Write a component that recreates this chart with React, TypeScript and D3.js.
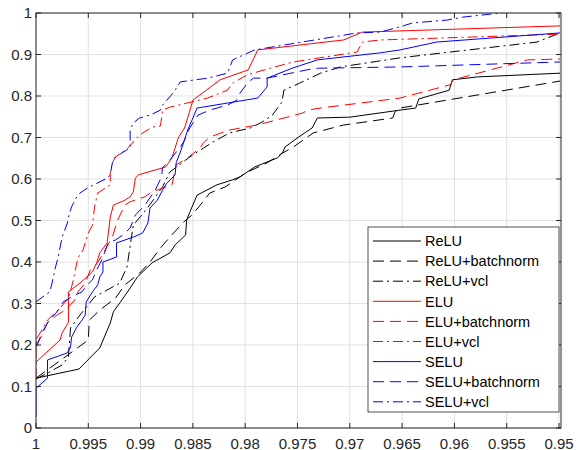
import React from "react";
import * as d3 from "d3";

type Pt = [number, number];

const xTicks = [1, 0.995, 0.99, 0.985, 0.98, 0.975, 0.97, 0.965, 0.96, 0.955, 0.95];
const xTickLabels = ["1", "0.995", "0.99", "0.985", "0.98", "0.975", "0.97", "0.965", "0.96", "0.955", "0.95"];
const yTicks = [0, 0.1, 0.2, 0.3, 0.4, 0.5, 0.6, 0.7, 0.8, 0.9, 1];
const yTickLabels = ["0", "0.1", "0.2", "0.3", "0.4", "0.5", "0.6", "0.7", "0.8", "0.9", "1"];

const relu: Pt[] = [
  [1, 0.12], [0.9959, 0.142], [0.9939, 0.193], [0.9929, 0.253], [0.9926, 0.28], [0.992, 0.301],
  [0.991, 0.337], [0.9903, 0.364], [0.9889, 0.398], [0.9872, 0.422], [0.9867, 0.441], [0.9857, 0.465],
  [0.9856, 0.501], [0.9853, 0.52], [0.9846, 0.561], [0.9827, 0.586], [0.9812, 0.598], [0.9805, 0.605],
  [0.9791, 0.629], [0.9769, 0.651], [0.9764, 0.665], [0.9762, 0.677], [0.9749, 0.701], [0.9736, 0.723],
  [0.9731, 0.747], [0.97, 0.749], [0.9652, 0.766], [0.9637, 0.771], [0.9634, 0.793], [0.9605, 0.814],
  [0.9602, 0.839], [0.9578, 0.846], [0.9499, 0.855],
];
const reluBn: Pt[] = [
  [1, 0.12], [0.995, 0.212], [0.9949, 0.26], [0.9939, 0.284], [0.9924, 0.313], [0.9915, 0.345],
  [0.9901, 0.373], [0.9891, 0.4], [0.9881, 0.434], [0.9872, 0.46], [0.9859, 0.496], [0.9851, 0.513],
  [0.9843, 0.537], [0.9834, 0.566], [0.9819, 0.581], [0.98, 0.614], [0.9779, 0.639], [0.9764, 0.663],
  [0.9754, 0.677], [0.9735, 0.711], [0.9706, 0.73], [0.9659, 0.747], [0.9657, 0.761], [0.9652, 0.771],
  [0.9499, 0.836],
];
const reluVcl: Pt[] = [
  [1, 0.118], [0.9987, 0.135], [0.9975, 0.152], [0.9969, 0.171], [0.9967, 0.241], [0.9958, 0.272],
  [0.9944, 0.316], [0.992, 0.349], [0.9913, 0.388], [0.9907, 0.489], [0.9894, 0.528], [0.9879, 0.581],
  [0.9872, 0.617], [0.9853, 0.653], [0.9831, 0.689], [0.9815, 0.711], [0.9795, 0.723], [0.9784, 0.737],
  [0.9774, 0.754], [0.9765, 0.785], [0.9763, 0.814], [0.9748, 0.831], [0.9728, 0.855], [0.9709, 0.87],
  [0.9652, 0.892], [0.9521, 0.93], [0.9499, 0.952],
];
const elu: Pt[] = [
  [1, 0.159], [0.9977, 0.212], [0.9975, 0.229], [0.9969, 0.255], [0.9969, 0.328], [0.9958, 0.349],
  [0.9946, 0.376], [0.9942, 0.398], [0.9939, 0.422], [0.9932, 0.446], [0.9929, 0.508], [0.9926, 0.537],
  [0.9915, 0.549], [0.991, 0.557], [0.9907, 0.569], [0.9905, 0.602], [0.9902, 0.61], [0.9876, 0.629],
  [0.987, 0.651], [0.9864, 0.699], [0.9858, 0.723], [0.9855, 0.747], [0.985, 0.79], [0.9824, 0.839],
  [0.9797, 0.863], [0.9788, 0.911], [0.9706, 0.935], [0.9688, 0.954], [0.9499, 0.969],
];
const eluBn: Pt[] = [
  [1, 0.2], [0.9994, 0.224], [0.9989, 0.255], [0.998, 0.272], [0.9972, 0.284], [0.9963, 0.308],
  [0.996, 0.328], [0.9953, 0.349], [0.9948, 0.381], [0.9941, 0.398], [0.9934, 0.429], [0.9927, 0.46],
  [0.9922, 0.501], [0.9915, 0.537], [0.991, 0.545], [0.9896, 0.557], [0.9889, 0.569], [0.987, 0.586],
  [0.9866, 0.634], [0.9855, 0.651], [0.9843, 0.675], [0.984, 0.687], [0.9834, 0.701], [0.9815, 0.718],
  [0.9789, 0.73], [0.9781, 0.735], [0.9745, 0.759], [0.974, 0.766], [0.9728, 0.771], [0.9652, 0.795],
  [0.9604, 0.827], [0.9601, 0.839], [0.953, 0.887], [0.9499, 0.889],
];
const eluVcl: Pt[] = [
  [1, 0.12], [1, 0.212], [0.9989, 0.26], [0.9977, 0.289], [0.9969, 0.313], [0.9965, 0.349],
  [0.996, 0.41], [0.9955, 0.429], [0.995, 0.47], [0.9946, 0.489], [0.9944, 0.533], [0.9941, 0.566],
  [0.9929, 0.586], [0.9929, 0.617], [0.9927, 0.639], [0.9924, 0.653], [0.9912, 0.675], [0.9903, 0.701],
  [0.9901, 0.706], [0.9889, 0.725], [0.9881, 0.728], [0.9879, 0.766], [0.9872, 0.773], [0.9859, 0.781],
  [0.9836, 0.795], [0.9817, 0.814], [0.9812, 0.831], [0.9798, 0.851], [0.9776, 0.867], [0.9754, 0.882],
  [0.9693, 0.906], [0.9688, 0.93], [0.9671, 0.935], [0.9499, 0.949],
];
const selu: Pt[] = [
  [1, 0.027], [1, 0.096], [0.9989, 0.12], [0.9989, 0.164], [0.997, 0.181], [0.9967, 0.195],
  [0.9966, 0.219], [0.9961, 0.243], [0.9956, 0.26], [0.9953, 0.272], [0.9952, 0.304], [0.9946, 0.328],
  [0.9941, 0.345], [0.9939, 0.364], [0.9936, 0.376], [0.9936, 0.4], [0.9923, 0.412], [0.9923, 0.446],
  [0.9907, 0.46], [0.9898, 0.47], [0.9893, 0.494], [0.9891, 0.53], [0.9884, 0.549], [0.9879, 0.573],
  [0.9875, 0.59], [0.9867, 0.61], [0.9866, 0.639], [0.9862, 0.665], [0.9858, 0.694], [0.9855, 0.718],
  [0.985, 0.747], [0.9846, 0.771], [0.9788, 0.795], [0.9779, 0.822], [0.9779, 0.843], [0.9755, 0.867],
  [0.9731, 0.887], [0.9671, 0.904], [0.9652, 0.911], [0.9617, 0.93], [0.9499, 0.952],
];
const seluBn: Pt[] = [
  [1, 0.195], [0.9998, 0.205], [0.9994, 0.231], [0.9989, 0.253], [0.9977, 0.289], [0.9974, 0.304],
  [0.9963, 0.32], [0.9956, 0.328], [0.9951, 0.345], [0.9946, 0.357], [0.9942, 0.381], [0.9937, 0.405],
  [0.9931, 0.446], [0.9924, 0.453], [0.9917, 0.465], [0.991, 0.482], [0.9905, 0.513], [0.9896, 0.537],
  [0.9886, 0.573], [0.988, 0.605], [0.9879, 0.627], [0.9872, 0.646], [0.9862, 0.677], [0.9859, 0.689],
  [0.9853, 0.723], [0.9845, 0.754], [0.9834, 0.766], [0.9817, 0.778], [0.9808, 0.79], [0.9805, 0.807],
  [0.9797, 0.834], [0.9792, 0.843], [0.9779, 0.843], [0.9741, 0.863], [0.973, 0.867], [0.9652, 0.87],
  [0.9499, 0.882],
];
const seluVcl: Pt[] = [
  [1, 0.304], [0.9987, 0.328], [0.9985, 0.345], [0.9982, 0.381], [0.9979, 0.41], [0.9975, 0.46],
  [0.997, 0.494], [0.9969, 0.508], [0.9966, 0.533], [0.9961, 0.557], [0.9958, 0.566], [0.9951, 0.578],
  [0.9932, 0.602], [0.9929, 0.61], [0.9927, 0.639], [0.9924, 0.653], [0.991, 0.675], [0.991, 0.718],
  [0.9907, 0.735], [0.9901, 0.747], [0.9891, 0.754], [0.9881, 0.766], [0.9879, 0.778], [0.9869, 0.807],
  [0.9862, 0.834], [0.9836, 0.843], [0.9831, 0.846], [0.9817, 0.855], [0.9812, 0.887], [0.9791, 0.911],
  [0.9693, 0.952], [0.9671, 0.954], [0.9649, 0.969], [0.964, 0.976], [0.9607, 0.983], [0.9592, 0.99],
  [0.9556, 1.0], [0.9499, 1.012],
];

const seriesNames = [
  "ReLU", "ReLU+batchnorm", "ReLU+vcl",
  "ELU", "ELU+batchnorm", "ELU+vcl",
  "SELU", "SELU+batchnorm", "SELU+vcl",
];
const seriesData = [relu, reluBn, reluVcl, elu, eluBn, eluVcl, selu, seluBn, seluVcl];
const seriesColors = ["#000000", "#000000", "#000000", "#ff0000", "#ff0000", "#ff0000", "#0000ff", "#0000ff", "#0000ff"];
const seriesStyles = ["solid", "dash", "dashdot", "solid", "dash", "dashdot", "solid", "dash", "dashdot"];

const dashFor = (s: string) => (s === "dash" ? "11,6" : s === "dashdot" ? "10,4,2,4" : undefined);

export default function App() {
  const W = 576, H = 450;
  const left = 36, right = 561, top = 13, bottom = 428;
  const x = d3.scaleLinear().domain([1, 0.94981]).range([left, right]);
  const y = d3.scaleLinear().domain([0, 1]).range([bottom, top]);
  const line = d3.line<Pt>().x((d) => x(d[0])).y((d) => y(d[1]));
  const axisColor = "#262626";
  const gridColor = "#e1e1e1";
  const font = "'Liberation Sans', Arial, Helvetica, sans-serif";
  const tickLen = 5;

  const legX = 368, legY = 227, legW = 191, legH = 185;
  const rowH = 20.1;

  return (
    <svg width={W} height={H} style={{ position: "absolute", left: 0, top: 0, background: "#fff" }}>
      <defs>
        <clipPath id="plotclip">
          <rect x={left} y={top} width={right - left} height={bottom - top} />
        </clipPath>
      </defs>
      <rect x={0} y={0} width={W} height={H} fill="#fff" />
      {xTicks.map((t, i) => (
        <line key={"gx" + i} x1={x(t)} x2={x(t)} y1={top} y2={bottom} stroke={gridColor} strokeWidth={1} />
      ))}
      {yTicks.map((t, i) => (
        <line key={"gy" + i} x1={left} x2={right} y1={y(t)} y2={y(t)} stroke={gridColor} strokeWidth={1} />
      ))}
      <g clipPath="url(#plotclip)">
        {seriesData.map((d, i) => (
          <path
            key={"s" + i}
            d={line(d) || ""}
            fill="none"
            stroke={seriesColors[i]}
            strokeWidth={1}
            strokeDasharray={dashFor(seriesStyles[i])}
            strokeLinejoin="round"
          />
        ))}
      </g>
      <rect x={left} y={top} width={right - left} height={bottom - top} fill="none" stroke={axisColor} strokeWidth={1} />
      {xTicks.map((t, i) => (
        <g key={"tx" + i}>
          <line x1={x(t)} x2={x(t)} y1={bottom} y2={bottom - tickLen} stroke={axisColor} />
          <line x1={x(t)} x2={x(t)} y1={top} y2={top + tickLen} stroke={axisColor} />
          <text x={x(t)} y={449} textAnchor="middle" fontFamily={font} fontSize={15} fill={axisColor}>
            {xTickLabels[i]}
          </text>
        </g>
      ))}
      {yTicks.map((t, i) => (
        <g key={"ty" + i}>
          <line x1={left} x2={left + tickLen} y1={y(t)} y2={y(t)} stroke={axisColor} />
          <line x1={right} x2={right - tickLen} y1={y(t)} y2={y(t)} stroke={axisColor} />
          <text x={32} y={y(t)} dy="0.36em" textAnchor="end" fontFamily={font} fontSize={15} fill={axisColor}>
            {yTickLabels[i]}
          </text>
        </g>
      ))}
      <rect x={legX} y={legY} width={legW} height={legH} fill="#fff" stroke={axisColor} strokeWidth={0.8} />
      {seriesNames.map((n, i) => {
        const cy = legY + 14 + i * rowH;
        return (
          <g key={"l" + i}>
            <line x1={legX + 5} x2={legX + 53} y1={cy} y2={cy} stroke={seriesColors[i]} strokeWidth={1} strokeDasharray={dashFor(seriesStyles[i])} />
            <text x={legX + 57} y={cy} dy="0.36em" fontFamily={font} fontSize={14.5} fill="#000">
              {n}
            </text>
          </g>
        );
      })}
    </svg>
  );
}
